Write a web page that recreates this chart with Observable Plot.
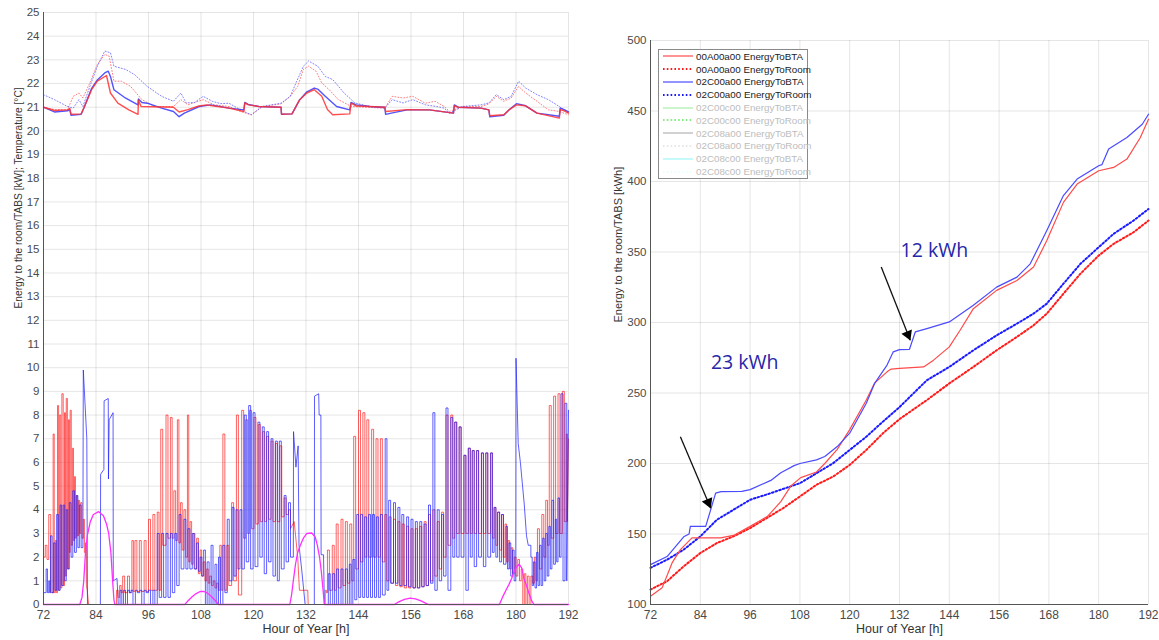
<!DOCTYPE html>
<html><head><meta charset="utf-8">
<script src="https://cdn.jsdelivr.net/npm/d3@7"></script>
<script src="https://cdn.jsdelivr.net/npm/@observablehq/plot@0.6"></script>
<style>
body{margin:0;background:#fff;font-family:"Liberation Sans",Arial,sans-serif;}
#wrap{position:relative;width:1159px;height:640px;overflow:hidden;background:#fff;}
#left{position:absolute;left:0;top:0;}
#right{position:absolute;left:600px;top:0;}
#legend{position:absolute;left:658px;top:49px;width:150px;height:130px;border:1px solid #8a8a8a;background:#fff;box-sizing:border-box;z-index:5;font-family:"Liberation Sans",Arial,sans-serif;font-size:9.8px;}
#legend .row{height:12.8px;display:flex;align-items:center;white-space:nowrap;}
#legend svg{margin-left:3px;margin-right:2px;flex:none;}
</style></head><body>
<div id="wrap"><div id="left"></div><div id="right"></div><div id="legend"></div></div>
<script>
// ---------- axis ticks ----------
const xTicks = [72, 84, 96, 108, 120, 132, 144, 156, 168, 180, 192];
const yTicksLeft = [0,1,2,3,4,5,6,7,8,9,10,11,12,13,14,15,16,17,18,19,20,21,22,23,24,25];
const yTicksRight = [100, 150, 200, 250, 300, 350, 400, 450, 500];
const xLabel = "Hour of Year [h]";
const yLabelLeft = "Energy to the room/TABS [kW]; Temperature [°C]";
const yLabelRight = "Energy to the room/TABS [kWh]";

// ---------- left panel: temperatures [hour, °C] ----------
const tempRedSolid = [[72,21.0],[74.5,20.86],[77.5,20.89],[78.0,20.95],[78.3,20.7],[80.6,20.72],[81.3,21.0],[83.0,21.74],[84.3,22.1],[86.4,22.34],[87.3,21.6],[89.0,21.17],[91.5,20.89],[93.6,20.7],[93.7,21.3],[94.3,21.03],[97,21.02],[101.7,21.0],[103,20.8],[105,20.9],[107.5,21.05],[109.3,21.1],[111,21.05],[114.4,20.96],[117.8,20.82],[118.0,21.18],[118.8,21.1],[121.2,21.03],[126.3,21.0],[126.4,20.7],[128.8,20.72],[130.5,21.3],[132.2,21.6],[133.9,21.74],[135.6,21.46],[136.9,20.9],[138.1,20.68],[142.0,20.72],[142.3,21.17],[143.5,21.05],[146.6,21.03],[150,21.0],[150.2,20.82],[155.1,20.9],[160.2,20.89],[165.7,20.75],[165.9,21.06],[166.8,21.0],[172,20.96],[173.8,20.89],[174.0,20.64],[177.2,20.68],[178.5,20.9],[180.1,21.1],[182.2,21.06],[184.8,20.75],[189.9,20.54],[190.1,20.9],[191,20.85],[192,20.75]];
const tempBlueSolid = [[72,21.0],[74.5,20.8],[77.5,20.85],[78.0,20.9],[78.3,20.66],[80.6,20.7],[81.3,21.0],[83.0,21.8],[84.3,22.15],[86.0,22.45],[86.8,22.52],[87.3,22.3],[88.1,21.74],[90.7,21.39],[93.6,21.1],[93.7,21.35],[94.5,21.2],[95.7,21.17],[99,20.96],[101.7,20.82],[103,20.6],[104.2,20.75],[107.6,21.03],[110.2,21.1],[114.4,20.96],[117.8,20.89],[118.0,21.2],[118.8,21.12],[121.2,21.03],[126.3,21.0],[126.4,20.7],[128.8,20.72],[130.5,21.3],[132.2,21.65],[133.9,21.81],[134.8,21.75],[136.4,21.46],[139,21.03],[142,20.89],[142.3,21.2],[143.5,21.1],[146.6,21.03],[150,21.0],[150.2,20.7],[151.5,20.75],[155.1,20.89],[160.2,20.89],[165.7,20.75],[165.9,21.1],[166.8,21.0],[172,20.96],[173.8,20.89],[174.0,20.6],[177.2,20.66],[178.5,20.9],[180.1,21.15],[182.2,21.06],[184.8,20.75],[189.9,20.62],[190.1,20.96],[191,20.9],[192,20.8]];
const tempBlueDotted = [[72,21.53],[74.5,21.32],[77.5,21.03],[78.8,20.96],[80.1,21.32],[81.0,21.03],[82.6,21.88],[84.3,22.73],[86.0,23.37],[87.3,23.3],[88.1,22.73],[90.7,22.6],[92.8,22.38],[95.7,21.88],[99,21.46],[101.7,21.25],[103.4,21.6],[104.6,21.18],[106.5,21.2],[108.5,21.46],[110.6,21.25],[112.5,21.15],[114.4,21.17],[117,20.89],[119.5,20.68],[122,21.03],[126.3,21.17],[128.4,21.46],[129.7,22.02],[131.4,22.73],[132.6,22.95],[134.7,22.73],[136.4,22.3],[138.1,22.17],[140.7,21.6],[143.2,21.18],[146.6,21.03],[150,20.96],[151.7,21.32],[154.2,21.18],[156.4,21.32],[159.3,21.1],[161.9,21.03],[163.6,20.96],[164.8,20.75],[167.8,21.03],[172,21.1],[173.8,21.18],[175.5,21.53],[177.2,21.32],[178.9,21.46],[180.6,22.1],[182.2,21.81],[184.8,21.53],[187.4,21.32],[189.9,21.03],[192,20.75]];
const tempRedDotted = [[72,21.0],[74.5,20.9],[77.5,20.9],[78.8,21.46],[80.1,21.6],[81.0,21.39],[82.6,22.03],[84.3,22.8],[86.0,23.23],[87.0,23.16],[88.1,22.1],[89.8,22.1],[91.9,21.88],[94.5,21.32],[97.4,21.03],[101.7,21.03],[103.4,21.32],[105,21.1],[108.5,21.32],[111,21.1],[114.4,21.03],[117,20.82],[119.5,20.68],[122,21.03],[126.3,21.14],[128.4,21.46],[130.1,21.88],[131.4,22.6],[132.6,22.73],[134.3,22.52],[135.6,22.03],[137.3,21.74],[139.4,21.32],[142.4,21.03],[150,20.96],[151.7,21.46],[154.2,21.39],[156.4,21.46],[159.3,21.17],[161.5,21.25],[163.6,21.03],[164.8,20.82],[167.8,21.03],[172,21.03],[173.8,21.14],[175.5,21.46],[177.2,21.25],[178.9,21.39],[180.6,21.88],[182.2,21.6],[184.8,21.25],[187.4,20.89],[189.9,20.82],[192,20.68]];

// ---------- left panel: power [kW]; [t, v] = point, [t, peak, trough] = on/off cycle ----------
const powerRed = [[72.0,2.0],
[72.4,2.5,1.9],[73.2,3.8,0.5],[74.2,7.2,0.5],[74.7,2.7,0.5],[75.2,8.4,0.6],[75.7,8.0,0.7],[76.2,8.9,0.8],[76.8,8.1,1.2],[77.2,8.7,1.5],[77.7,7.8,2.2],[78.1,8.2,2.5],[78.6,6.6,2.7],[79.1,5.4,2.8],[79.5,4.6,2.9],[80.0,4.4,3.0],[80.5,4.3,2.8],[81.1,3.6,2.2],[81.6,2.6,0.8],
[82.0,0.6],[82.3,0],[88.6,0],
[88.7,0.6,0.3],[89.4,0.8,0.5],[90.1,1.2,0.5],[91.2,1.2,0.5],[92.2,2.7,0.55],[92.9,2.7,0.55],[93.9,2.7,0.55],[95.0,2.7,0.55],[96.0,3.6,0.6],[97.0,3.8,0.6],[98.0,3.9,0.6],[98.8,7.4,2.5],[100.0,8.0,2.8],[101.0,7.9,2.8],[101.8,4.8,2.7],[102.6,7.8,2.6],[103.3,4.3,2.3],[104.1,4.0,2.0],[104.9,8.0,1.8],[105.5,3.5,1.7],[106.2,3.0,1.5],[107.0,2.8,1.3],[107.8,2.3,1.2],[108.5,1.8,1.0],[109.3,1.5,0.9],[110.0,1.2,0.8],[110.8,1.0,0.7],[111.6,0.9,0.6],[112.3,2.5,0.6],[113.0,7.2,0.6],[113.9,2.5,0.8],[115.0,4.3,1.0],[116.1,8.0,0.4],[117.3,8.2,2.8],[118.2,7.8,3.0],[119.1,8.2,3.2],[120.1,7.9,3.4],[121.1,7.6,3.5],[122.1,7.3,3.5],[123.0,7.1,3.6],[124.0,6.9,3.5],[125.0,6.8,3.5],[126.0,6.7,3.7],[127.0,4.5,3.8],[128.0,4.0,3.2],
[129.3,3.5],[130.1,2.0],[130.5,0.6],[132.4,0.6],[132.5,0],[136.2,0],
[136.4,0.6,0.5],[136.9,2.3,0.6],[138.0,2.5,0.6],[138.9,3.4,0.7],[140.0,3.6,0.8],[141.0,3.5,0.9],[142.0,3.4,1.0],[142.9,7.1,1.5],[144.0,8.2,1.8],[145.0,8.1,2.0],[145.9,7.8,2.0],[147.0,7.4,2.0],[148.0,7.0,2.0],[149.0,7.0,1.8],[150.0,3.8,1.0],[151.0,3.7,0.9],[152.0,3.6,0.8],[153.0,3.5,0.75],[154.0,3.4,0.7],[155.0,3.3,0.7],[156.0,3.2,0.7],[157.0,3.2,0.7],[158.0,3.3,0.75],[159.0,3.5,0.8],[160.0,3.8,1.0],[161.0,4.0,1.2],[162.0,3.5,1.5],[163.0,3.9,2.0],[164.0,8.0,2.5],[165.1,8.0,2.8],[166.0,7.7,3.0],[167.0,7.5,3.0],[168.1,6.3,3.0],[169.1,6.6,3.0],[170.0,6.5,3.0],[171.0,6.5,3.0],[172.1,6.4,3.0],[173.1,6.4,3.0],[174.2,6.4,2.8],[175.0,4.1,2.5],[175.8,3.9,2.3],[176.7,3.8,2.0],[177.5,3.4,1.8],[178.2,2.7,1.5],[178.9,2.4,1.3],[179.6,2.0,1.2],[180.4,1.9,1.0],[181.2,1.5,0.0],[181.9,1.3,0.0],[182.6,1.2,0.0],[183.4,1.2,0.9],[184.2,2.0,1.0],[184.9,3.2,1.5],[185.9,3.8,2.0],[186.8,4.4,2.5],[187.6,8.4,2.8],[188.6,8.8,3.0],[189.6,8.9,3.0],[190.6,9.0,3.5],[191.5,7.2,3.5],
[192,7.0]];
const powerBlue = [[72.0,0.5],
[72.6,1.5,0.5],[73.2,1.0,0.5],[73.6,2.9,0.5],[74.3,2.6,0.6],[75.0,3.8,0.6],[75.8,4.2,0.8],[76.5,4.2,1.0],[77.2,4.0,1.5],[77.9,4.3,2.0],[78.7,4.8,2.2],[79.5,4.6,2.4],[80.2,4.2,2.4],
[81.0,2.4],[81.1,9.9],[81.9,7.0],[82.05,0],[85.0,0],[85.05,5.5],[85.8,5.7],[85.85,8.6],[86.8,8.7],[86.85,5.3],[87.0,7.8],[87.9,8.1],[87.95,1.0],[88.8,1.1],[89.1,0],
[89.5,0.6,0],[90.3,0.6,0],[91.2,0.6,0.5],[92.0,0.6,0],[93.0,0.6,0.5],[94.0,0.6,0],[95.0,0.6,0.5],[96.0,0.6,0],[97.0,0.6,0],
[98.0,3.0,0.3],[99.0,3.0,0.3],[100.0,3.0,0.3],[101.0,3.0,0.5],[102.0,3.0,0.8],[103.0,3.8,1.5],[104.1,3.6,1.5],[105.0,3.2,1.5],[106.0,3.0,1.5],[107.0,2.6,1.4],[107.8,2.0,1.2],[108.6,2.3,0],[109.4,1.8,0],[110.3,2.5,0],[111.2,1.7,0],[112.0,2.0,0],[113.0,2.5,0.5],[114.0,3.6,1.0],[115.1,4.1,1.2],[116.0,4.0,1.5],[116.9,4.0,1.5],[117.9,8.0,1.8],[118.9,8.4,1.5],[119.9,8.1,1.6],[121.0,7.7,2.0],[122.0,7.5,1.3],[123.0,7.3,1.8],[124.0,7.0,1.2],[125.0,6.9,1.0],[125.9,6.9,1.5],[127.0,4.6,1.8],[128.0,4.3,2.0],
[129.1,2.0],[129.15,7.3],[129.7,5.8],[130.2,6.7],[130.4,2.5],[131.0,1.5],[131.8,0],[133.9,0],[133.95,8.8],[134.9,8.9],[135.0,8.0],[135.4,8.0],[135.45,2.1],[136.0,2.1],[136.2,0],
[137.1,1.3,0],[138.1,1.3,0],[139.0,1.5,0],[140.0,1.5,0],[141.0,1.5,0],[141.9,1.7,0],[142.7,1.9,0.2],[143.6,3.8,0.3],[144.5,3.8,0.3],[145.4,3.7,0.3],[146.3,3.8,0.3],[147.2,3.8,0.3],[148.1,3.7,0.3],[149.0,3.8,0.4],[150.1,7.0,0.6],[150.9,4.4,0.9],[152.0,4.3,0.9],[153.0,4.1,0.8],[153.9,3.8,0.8],[155.0,3.7,0.75],[156.0,3.6,0.7],[157.0,3.5,0.7],[158.0,3.5,0.75],[159.0,3.4,0.8],[160.0,4.2,0.9],[161.0,8.1,0.6],[162.0,4.0,1.0],[163.0,3.8,1.2],[164.0,8.3,0.6],[165.1,7.9,2.0],[166.0,7.7,2.0],[167.0,7.5,2.0],[168.1,6.3,0.6],[169.1,6.6,2.0],[170.0,6.5,1.6],[171.0,6.5,2.0],[172.1,6.4,1.6],[173.1,6.4,2.0],[174.2,6.4,2.2],[175.0,4.1,2.0],[175.8,3.9,1.8],[176.7,3.8,1.7],[177.7,3.3,1.5],[178.4,2.6,1.2],[179.2,2.3,1.0],
[179.95,1.0],[180.0,10.4],[180.5,6.8],[181.0,6.0],[181.5,5.0],[181.9,4.2],[182.4,2.9],[182.8,2.5],
[183.4,2.0,0.8],[184.0,1.8,0.7],[184.7,2.2,0.8],[185.4,2.5,0.8],[186.1,2.8,1.0],[186.8,3.0,1.2],[187.5,3.3,1.5],[188.2,4.4,1.7],[189.0,3.6,1.8],[189.6,4.5,2.0],[190.3,8.9,1.0],[191.2,8.5,1.0],
[192,8.2]];
const powerMagenta = [[72,0],[80.3,0],[80.8,0.3],[81.2,1.0],[81.6,2.2],[82.0,2.9],[82.7,3.5],[83.4,3.8],[84.6,3.92],[85.7,3.75],[86.4,3.4],[86.9,3.0],[87.4,2.2],[87.8,1.0],[88.1,0.2],[88.3,0],[104.3,0],[105.0,0.15],[105.9,0.32],[106.8,0.45],[107.8,0.55],[108.7,0.55],[109.5,0.48],[110.3,0.35],[111.2,0.18],[112.0,0],[128.3,0],[128.7,0.4],[129.1,1.0],[129.6,1.7],[130.1,2.2],[130.7,2.5],[131.4,2.8],[132.2,3.0],[133.3,3.02],[134.1,2.85],[134.6,2.5],[135.1,2.0],[135.5,1.4],[135.9,0.6],[136.2,0],[152.2,0],[153.3,0.12],[154.5,0.22],[155.8,0.27],[157.0,0.24],[158.3,0.15],[159.3,0.06],[160.0,0],[176.2,0],[176.9,0.3],[177.7,0.6],[178.4,0.85],[179.0,1.1],[179.6,1.4],[180.2,1.6],[180.7,1.7],[181.3,1.55],[181.8,1.1],[182.4,0.8],[183.0,0.45],[183.6,0.15],[184.1,0],[192,0]];

// ---------- right panel: cumulative energy [hour, kWh] ----------
const redBTA = [[72,105.9],[74.8,111.8],[77.2,129.5],[79.2,138.9],[82,147.2],[88.9,147.2],[92,149],[96,155.4],[100.2,162.5],[103.4,173],[105.8,184],[108.2,190],[112,194],[114,200],[117,210],[120,224],[124,245],[126,257],[129,265],[130,267],[132,267.4],[137.8,268.5],[140.2,273.3],[144,282.7],[146.6,294.5],[149.8,309.8],[155.4,322.8],[160.3,329.8],[164.3,339.3],[167.5,358.1],[171.5,385.2],[174.8,398.2],[180,407.6],[183.6,410],[186.8,415.9],[190,431],[192,444.2]];
const redRoom = [[72,110.6],[76,116.5],[80,127.1],[84,136.5],[88,143.6],[92,148.3],[96,154.2],[100,161.3],[104,168.4],[108,176.6],[112,184.9],[116,190.7],[120,199],[124,209.6],[128,221.4],[132,231.5],[138.6,245],[144,256.8],[149.8,268.5],[155.4,280.3],[160.3,289.8],[164.3,298],[167.5,306.3],[171.5,320.4],[175.6,334.6],[180,347.5],[183.6,355.8],[188.4,364],[192,372.3]];
const blueBTA = [[72,128.3],[76,134],[80,148],[81.3,150],[81.6,155.4],[85.3,155.4],[87.7,179],[89,180],[94,180.2],[96,181.5],[101,188],[103.4,193.5],[106.6,198.5],[108,200],[112,202.6],[114,205],[117,212],[120,221.5],[124,242.7],[126,256.8],[129,269.8],[130.5,279.2],[132,280.8],[134.4,281],[135.8,293.3],[138.6,295.7],[144,300.4],[149.8,312.2],[155.4,325.1],[160.3,332.2],[163.5,341.6],[167.5,365.2],[171.5,390],[174.8,401.7],[180,411.2],[180.8,412],[182.4,423],[186.8,431.2],[190.5,440.6],[192,447.7]];
const blueRoom = [[72,126],[76,131.8],[80,138.9],[84,148.3],[88,160.1],[92,167.2],[96,174.3],[100,178],[104,182],[108,186],[112,193.1],[116,200.2],[120,209.6],[124,219],[128,229.7],[132,240],[138.6,259.1],[144,268.5],[149.8,280.3],[155.4,290.9],[160.3,299.2],[164.3,306.3],[167.5,313.4],[171.5,327.5],[175.6,341.6],[180,353.4],[183.6,362.9],[188.4,372.3],[192,380.5]];

// annotations (right panel)
const annotTexts = ["23 kWh", "12 kWh"];
const annotX = [94.7, 140.4];
const annotY = [271.8, 351];
const arrowX1 = [79.2, 127.6], arrowY1 = [219, 339.3];
const arrowX2 = [86.5, 134.6], arrowY2 = [168.4, 287.4];

// legend (right panel)
const legendNames = ["00A00a00 EnergyToBTA","00A00a00 EnergyToRoom","02C00a00 EnergyToBTA","02C00a00 EnergyToRoom","02C00c00 EnergyToBTA","02C00c00 EnergyToRoom","02C08a00 EnergyToBTA","02C08a00 EnergyToRoom","02C08c00 EnergyToBTA","02C08c00 EnergyToRoom"];
const legendColors = ["#ff4a4a","#ff1a1a","#4a4aff","#1a1aff","#a8f0a8","#7ff07f","#bdbdbd","#cfcfcf","#b8f8f8","#d6fafa"];
const legendDotted = [false,true,false,true,false,true,false,true,false,true];
const legendWidths = [1.2,2.2,1.2,2.2,1.2,2.2,1.4,1,1.6,1];
const legendTextColors = ["#222","#222","#222","#222","#bdbdbd","#bdbdbd","#bdbdbd","#bdbdbd","#bdbdbd","#bdbdbd"];

// ---------- helpers ----------
function expand(entries){
  const pts = []; let last = null;
  entries.forEach((e, i) => {
    if (e.length === 2) { pts.push([e[0], e[1]]); last = e[1]; }
    else {
      const [t, P, L] = e;
      const next = entries[i + 1];
      const tn = next ? next[0] : t + 1;
      const w = Math.min(0.45, (tn - t) * 0.5);
      if (last !== null) pts.push([t, last]);
      pts.push([t, P]); pts.push([t + w, P]); pts.push([t + w, L]);
      last = L;
    }
  });
  return pts;
}
const X = d => d[0], Y = d => d[1];
const font = "Liberation Sans, Arial, sans-serif";

// ---------- left chart ----------
const left = Plot.plot({
  width: 580, height: 640,
  marginLeft: 43, marginRight: 12, marginTop: 12, marginBottom: 36,
  x: {domain: [72, 192]},
  y: {domain: [0, 25]},
  style: {fontFamily: font, fontSize: "11.5px", color: "#4a4a4a", background: "#fff", overflow: "visible"},
  marks: [
    Plot.gridX({ticks: xTicks, stroke: "#000", strokeOpacity: 0.1}),
    Plot.gridY({ticks: yTicksLeft, stroke: "#000", strokeOpacity: 0.1}),
    Plot.axisX({ticks: xTicks, tickSize: 0, tickPadding: 6, label: null, fontSize: 12}),
    Plot.axisY({ticks: yTicksLeft, tickSize: 0, tickPadding: 4, label: null, fontSize: 11.5}),
    Plot.line(expand(powerRed), {x: X, y: Y, stroke: "#ff2020", strokeOpacity: 0.7, strokeWidth: 1}),
    Plot.line(expand(powerBlue), {x: X, y: Y, stroke: "#2020ff", strokeOpacity: 0.72, strokeWidth: 1}),
    Plot.line(powerMagenta, {x: X, y: Y, stroke: "#ff30ff", strokeWidth: 1.3}),
    Plot.line(tempRedDotted, {x: X, y: Y, stroke: "#ff6060", strokeWidth: 1, strokeDasharray: "1,2", strokeOpacity: 0.8}),
    Plot.line(tempBlueDotted, {x: X, y: Y, stroke: "#6060ff", strokeWidth: 1, strokeDasharray: "1,2", strokeOpacity: 0.8}),
    Plot.line(tempBlueSolid, {x: X, y: Y, stroke: "#3535ff", strokeWidth: 1.4, strokeOpacity: 0.85}),
    Plot.line(tempRedSolid, {x: X, y: Y, stroke: "#ff3030", strokeWidth: 1.4, strokeOpacity: 0.85}),
    Plot.ruleX([72], {stroke: "#555"}),
    Plot.ruleY([0], {stroke: "#555"}),
    Plot.text([xLabel], {text: d => d, frameAnchor: "bottom", dy: 28, fontSize: 12.5, fill: "#333"}),
    Plot.text([yLabelLeft], {text: d => d, frameAnchor: "left", rotate: -90, dx: -25, fontSize: 10.2, fill: "#333"})
  ]
});
document.getElementById("left").appendChild(left);

// ---------- right chart ----------
const right = Plot.plot({
  width: 559, height: 640,
  marginLeft: 50, marginRight: 11, marginTop: 40, marginBottom: 36,
  x: {domain: [72, 192]},
  y: {domain: [100, 500]},
  style: {fontFamily: font, fontSize: "11.5px", color: "#4a4a4a", background: "#fff", overflow: "visible"},
  marks: [
    Plot.gridX({ticks: xTicks, stroke: "#000", strokeOpacity: 0.1}),
    Plot.gridY({ticks: yTicksRight, stroke: "#000", strokeOpacity: 0.1}),
    Plot.axisX({ticks: xTicks, tickSize: 0, tickPadding: 6, label: null, fontSize: 12}),
    Plot.axisY({ticks: yTicksRight, tickSize: 0, tickPadding: 4, label: null, fontSize: 11.5}),
    Plot.line(redRoom, {x: X, y: Y, stroke: "#ff1a1a", strokeWidth: 2, strokeDasharray: "1.6,2.2"}),
    Plot.line(blueRoom, {x: X, y: Y, stroke: "#1a1aff", strokeWidth: 2, strokeDasharray: "1.6,2.2"}),
    Plot.line(redBTA, {x: X, y: Y, stroke: "#ff4a4a", strokeWidth: 1.2}),
    Plot.line(blueBTA, {x: X, y: Y, stroke: "#4a4aff", strokeWidth: 1.2}),
    Plot.link(arrowX1, {x1: (d, i) => arrowX1[i], y1: (d, i) => arrowY1[i], x2: (d, i) => arrowX2[i], y2: (d, i) => arrowY2[i], stroke: "#111", strokeWidth: 1.3}),
    Plot.dot(arrowX2, {x: (d, i) => arrowX2[i], y: (d, i) => arrowY2[i], symbol: "triangle", r: 4.2, fill: "#000", stroke: "none", rotate: 157.5, dx: -2.4, dy: -5.7}),
    Plot.text(annotTexts, {x: (d, i) => annotX[i], y: (d, i) => annotY[i], text: d => d, fill: "#2626a8", fontSize: 19.5, fontFamily: "Open Sans, sans-serif"}),
    Plot.ruleX([72], {stroke: "#555"}),
    Plot.ruleY([100], {stroke: "#555"}),
    Plot.text([xLabel], {text: d => d, frameAnchor: "bottom", dy: 28, fontSize: 12.5, fill: "#333"}),
    Plot.text([yLabelRight], {text: d => d, frameAnchor: "left", rotate: -90, dx: -32, fontSize: 11, fill: "#333"})
  ]
});
document.getElementById("right").appendChild(right);

// ---------- legend ----------
const leg = d3.select("#legend");
legendNames.forEach((name, i) => {
  const row = leg.append("div").attr("class", "row");
  const s = row.append("svg").attr("width", 32).attr("height", 6);
  s.append("line").attr("x1", 1).attr("x2", 31).attr("y1", 3).attr("y2", 3)
    .attr("stroke", legendColors[i]).attr("stroke-width", legendWidths[i])
    .attr("stroke-dasharray", legendDotted[i] ? "1.6,2.2" : null);
  row.append("span").text(name).style("color", legendTextColors[i]);
});
</script>
</body></html>
